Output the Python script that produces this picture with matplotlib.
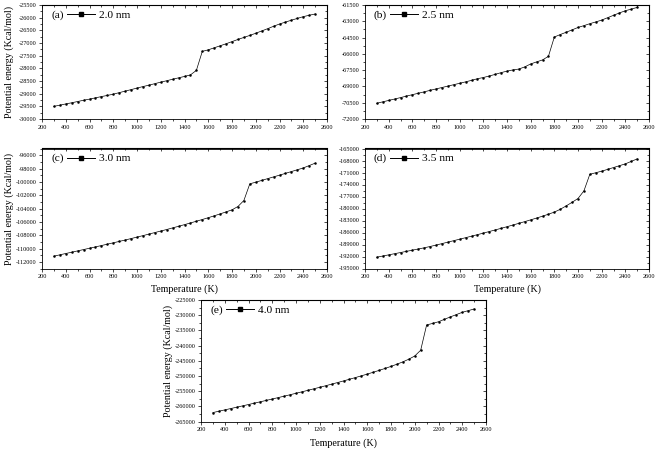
import matplotlib
matplotlib.use("Agg")
import matplotlib.pyplot as plt
from matplotlib.ticker import MultipleLocator, FuncFormatter

plt.rcParams["font.family"] = ["Liberation Serif", "DejaVu Serif"]
plt.rcParams["axes.unicode_minus"] = False

# ---- data ----
temperature = [300, 350, 400, 450, 500, 550, 600, 650, 700, 750, 800, 850, 900, 950,
               1000, 1050, 1100, 1150, 1200, 1250, 1300, 1350, 1400, 1450, 1500, 1550,
               1600, 1650, 1700, 1750, 1800, 1850, 1900, 1950, 2000, 2050, 2100, 2150,
               2200, 2250, 2300, 2350, 2400, 2450, 2500]

energy_20nm = [-29500, -29455, -29405, -29360, -29310, -29260, -29215, -29165, -29115, -29070,
               -29020, -28960, -28900, -28840, -28780, -28720, -28665, -28605, -28545, -28490,
               -28430, -28375, -28320, -28260, -28080, -27330, -27270, -27190, -27110, -27030,
               -26945, -26860, -26780, -26700, -26615, -26525, -26435, -26340, -26250, -26175,
               -26100, -26030, -25960, -25905, -25855]

energy_25nm = [-70550, -70420, -70290, -70160, -70030, -69890, -69760, -69630, -69500, -69360,
               -69230, -69100, -68970, -68840, -68710, -68580, -68440, -68290, -68180, -68040,
               -67890, -67730, -67590, -67480, -67400, -67200, -66930, -66740, -66560, -66230,
               -64450, -64220, -64010, -63790, -63570, -63400, -63220, -63060, -62890, -62670,
               -62450, -62230, -62030, -61880, -61720]

energy_30nm = [-111150, -110950, -110750, -110560, -110360, -110160, -109960, -109760, -109560,
               -109350, -109150, -108940, -108730, -108510, -108290, -108070, -107840, -107610,
               -107380, -107150, -106910, -106670, -106420, -106170, -105910, -105650, -105380,
               -105100, -104810, -104510, -104200, -103700, -102800, -100300, -100050, -99790,
               -99520, -99260, -99000, -98730, -98460, -98190, -97920, -97560, -97200]

energy_35nm = [-192170, -191880, -191590, -191300, -191010, -190720, -190420, -190120, -189830,
               -189500, -189150, -188780, -188410, -188040, -187670, -187300, -186920, -186540,
               -186150, -185760, -185360, -184960, -184550, -184130, -183710, -183280, -182840,
               -182390, -181920, -181430, -180900, -180200, -179350, -178450, -177500, -175600,
               -171450, -171060, -170670, -170220, -169760, -169300, -168840, -168220, -167600]

energy_40nm = [-262000, -261560, -261120, -260680, -260240, -259800, -259350, -258900, -258450,
               -258000, -257540, -257080, -256610, -256140, -255660, -255180, -254690, -254190,
               -253690, -253180, -252660, -252130, -251600, -251050, -250500, -249930, -249350,
               -248750, -248130, -247490, -246820, -246100, -245330, -244450, -243400, -241500,
               -233200, -232700, -232150, -231350, -230550, -229800, -229050, -228500, -227950]

tags = ["(a)", "(b)", "(c)", "(d)", "(e)"]
sizes = ["2.0 nm", "2.5 nm", "3.0 nm", "3.5 nm", "4.0 nm"]
series = [energy_20nm, energy_25nm, energy_30nm, energy_35nm, energy_40nm]
ylims = [(-30000, -25500), (-72000, -61500), (-113000, -95000), (-195000, -165000), (-265000, -225000)]
ysteps = [500, 1500, 2000, 3000, 5000]
ytick_starts = [-30000, -72000, -112000, -195000, -265000]

# ---- layout (pixels in 655x450 figure) ----
W, H = 655.0, 450.0
rects_px = [(42, 5, 285, 114), (365, 5, 284, 114),
            (42, 148.5, 285, 120), (365, 148.5, 284, 120),
            (201, 300, 285, 121.7)]
show_ylabel = [True, False, True, False, True]
show_xlabel = [False, False, True, True, True]

fig = plt.figure(figsize=(W / 100, H / 100), dpi=100)

fmt = FuncFormatter(lambda v, p: f"{int(round(v))}")

for i in range(5):
    l, t, w, h = rects_px[i]
    ax = fig.add_axes([l / W, 1 - (t + h) / H, w / W, h / H])
    ax.plot(temperature, series[i], color="black", lw=0.5, marker="s", ms=0.75,
            mec="black", mfc="black", label=sizes[i])
    ax.set_xlim(200, 2600)
    ax.set_ylim(*ylims[i])
    ax.xaxis.set_major_locator(MultipleLocator(200))
    ax.xaxis.set_minor_locator(MultipleLocator(100))
    lo, hi = ylims[i]
    ax.set_yticks(list(range(ytick_starts[i], hi + 1, ysteps[i])))
    ax.yaxis.set_minor_locator(MultipleLocator(ysteps[i] / 2))
    ax.yaxis.set_major_formatter(fmt)
    ax.tick_params(which="both", direction="out", labelsize=4.5, width=0.5, pad=1.5)
    ax.tick_params(which="major", length=2.5)
    ax.tick_params(which="minor", length=1.5)
    for s in ax.spines.values():
        s.set_linewidth(0.6)
    # mirrored inward ticks on top / right
    sx = ax.secondary_xaxis("top")
    sx.xaxis.set_major_locator(MultipleLocator(200))
    sx.xaxis.set_minor_locator(MultipleLocator(100))
    sx.tick_params(which="both", direction="in", labeltop=False, width=0.5)
    sx.tick_params(which="major", length=2.5)
    sx.tick_params(which="minor", length=1.5)
    sy = ax.secondary_yaxis("right")
    sy.set_yticks(list(range(ytick_starts[i], hi + 1, ysteps[i])))
    sy.yaxis.set_minor_locator(MultipleLocator(ysteps[i] / 2))
    sy.tick_params(which="both", direction="in", labelright=False, width=0.5)
    sy.tick_params(which="major", length=2.5)
    sy.tick_params(which="minor", length=1.5)

    if show_ylabel[i]:
        ax.set_ylabel("Potential energy (Kcal/mol)", fontsize=7.2, va="center")
        ax.yaxis.set_label_coords(-33.0 / w, 0.5)
    if show_xlabel[i]:
        ax.set_xlabel("Temperature (K)", fontsize=7.2, va="center")
        ax.xaxis.set_label_coords(0.5, -21.0 / h)

    ax.text(9.0 / w, 1 - 10.0 / h, tags[i], transform=ax.transAxes, fontsize=8.2,
            ha="left", va="center")
    leg = ax.legend(loc="center left", bbox_to_anchor=(25.0 / w, 1 - 10.0 / h),
                    frameon=False, fontsize=8.2, handlelength=2.5, handletextpad=0.3,
                    borderpad=0, borderaxespad=0, markerscale=3.8)
    for line in leg.get_lines():
        line.set_linewidth(0.7)

fig.savefig("out.png", dpi=100)
